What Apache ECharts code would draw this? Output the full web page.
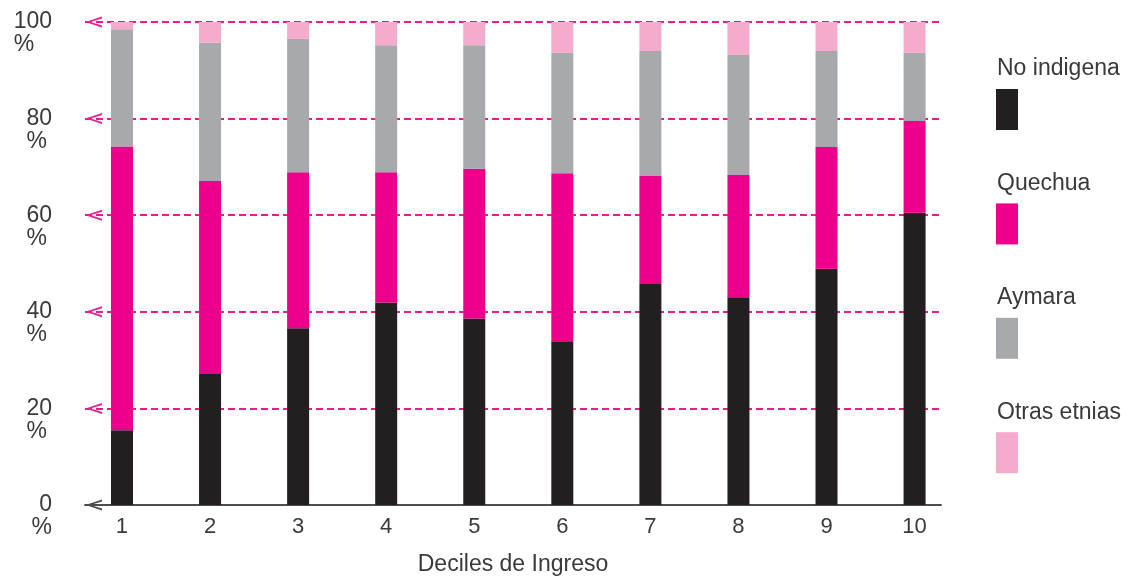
<!DOCTYPE html>
<html>
<head>
<meta charset="utf-8">
<script src="https://cdn.jsdelivr.net/npm/echarts@6/dist/echarts.min.js"></script>
<style>
  html, body { margin: 0; padding: 0; background: #fff; }
  #chart { width: 1136px; height: 581px; }
</style>
</head>
<body>
<div id="chart"></div>
<script>
// ---- data ----
const deciles = [1, 2, 3, 4, 5, 6, 7, 8, 9, 10];
const seriesNames = ['No indigena', 'Quechua', 'Aymara', 'Otras etnias'];
const noIndigena = [15.5, 27.1, 36.6, 41.9, 38.6, 33.9, 45.9, 43.0, 48.9, 60.5];
const quechua    = [58.7, 40.0, 32.3, 27.0, 31.0, 34.8, 22.3, 25.3, 25.2, 19.0];
const aymara     = [24.3, 28.6, 27.6, 26.3, 25.6, 24.9, 25.8, 24.9, 19.9, 14.1];
const otras      = [1.5, 4.3, 3.5, 4.8, 4.8, 6.4, 6.0, 6.8, 6.0, 6.4];
const yTicks = [0, 20, 40, 60, 80, 100];
const gridValues = [20, 40, 60, 80, 100];
const xTitle = 'Deciles de Ingreso';

// ---- styling ----
const FONT = "'Liberation Sans', Arial, sans-serif";
const TXT = '#3a3a3a';
const colors = ['#231f20', '#ec008c', '#a7a9ac', '#f5abcb'];
const chevron = 'path://M5 -16 L5 -16 M5 0 L10 15 L8.2 15 L5 4.5 L1.8 15 L0 15 Z';

const valuesList = [noIndigena, quechua, aymara, otras];

const series = seriesNames.map((name, i) => {
  const s = {
    name: name,
    type: 'bar',
    stack: 'total',
    barWidth: 22,
    itemStyle: { color: colors[i] },
    // value first so that the stacked dimension is the y value
    encode: { x: 1, y: 0 },
    data: deciles.map((d, k) => [valuesList[i][k], d]),
    z: 3
  };
  if (i === 0) {
    s.markLine = {
      silent: true,
      z: 1,
      symbol: [chevron, 'none'],
      symbolSize: [11, 34],
      label: { show: false },
      lineStyle: { color: '#ec1c8f', width: 2, type: [7, 4] },
      emphasis: { disabled: true },
      data: gridValues.map(v => ({ yAxis: v }))
    };
  }
  return s;
});

const chart = echarts.init(document.getElementById('chart'), null, { renderer: 'canvas' });
chart.setOption({
  animation: false,
  textStyle: { fontFamily: FONT },
  grid: { left: 85, right: 195, top: 22, bottom: 75, containLabel: false },
  legend: [
    {
      data: seriesNames,
      orient: 'vertical',
      left: 996,
      top: 89,
      padding: 0,
      itemWidth: 22,
      itemHeight: 41,
      itemGap: 73.4,
      icon: 'rect',
      selectedMode: false,
      formatter: function () { return ''; },
      textStyle: { fontSize: 10 }
    },
    {
      data: seriesNames,
      orient: 'vertical',
      left: 992,
      top: 55,
      padding: 0,
      itemWidth: 0,
      itemHeight: 28,
      itemGap: 89,
      icon: 'none',
      selectedMode: false,
      textStyle: { fontSize: 23, color: TXT, fontFamily: FONT }
    }
  ],
  xAxis: {
    type: 'value',
    min: 0.58,
    max: 10.3,
    name: xTitle,
    nameLocation: 'middle',
    nameGap: 48,
    nameTextStyle: { fontSize: 23, color: TXT, fontFamily: FONT },
    splitLine: { show: false },
    axisTick: { show: false },
    axisLine: {
      show: true,
      onZero: false,
      lineStyle: { color: '#4d4d4d', width: 1.8 },
      symbol: [chevron, 'none'],
      symbolSize: [11, 34]
    },
    axisLabel: {
      customValues: deciles,
      margin: 11,
      fontSize: 22,
      color: TXT,
      fontFamily: FONT,
      formatter: function (v) { return String(v); }
    }
  },
  yAxis: {
    type: 'value',
    min: 0,
    max: 100,
    interval: 20,
    splitLine: { show: false },
    axisLine: { show: false },
    axisTick: { show: false },
    axisLabel: {
      margin: 33,
      padding: [23, 0, 0, 0],
      color: TXT,
      fontFamily: FONT,
      formatter: function (v) {
        const p = v === 100 ? 'p1' : (v === 0 ? 'p0' : 'p');
        return '{n|' + v + '}\n{' + p + '|%}';
      },
      rich: {
        n: { fontSize: 23, lineHeight: 23, align: 'right', color: TXT, fontFamily: FONT },
        p: { fontSize: 23, lineHeight: 23, align: 'left', color: TXT, fontFamily: FONT },
        p1: { fontSize: 23, lineHeight: 23, align: 'left', color: TXT, fontFamily: FONT },
        p0: { fontSize: 23, lineHeight: 23, align: 'left', color: TXT, fontFamily: FONT }
      }
    }
  },
  series: series
});
</script>
</body>
</html>
